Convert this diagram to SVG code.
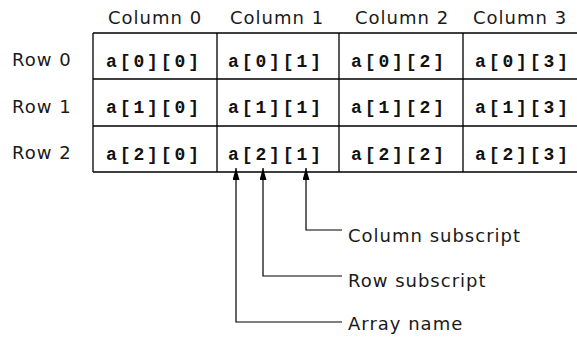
<svg xmlns="http://www.w3.org/2000/svg" width="577" height="343" viewBox="0 0 577 343">
<defs>
<marker id="ah" viewBox="0 0 12 7" refX="12" refY="3.5" markerWidth="12" markerHeight="7" markerUnits="userSpaceOnUse" orient="auto-start-reverse">
<path d="M0 0 L12 3.5 L0 7 Z" fill="#000"/>
</marker>
<style>
.lbl{font-family:"DejaVu Sans",sans-serif;font-size:18px;letter-spacing:1px;fill:#1a1a1a}
.cell{font-family:"Liberation Mono",monospace;font-weight:bold;font-size:18px;letter-spacing:2.9px;fill:#111}
.grid{stroke:#000;stroke-width:1.3;fill:none}
.conn{stroke:#000;stroke-width:1.2;fill:none}
</style>
</defs>
<rect width="577" height="343" fill="#fff"/>
<g id="headers">
<text class="lbl" x="108" y="24">Column 0</text>
<text class="lbl" x="230" y="24">Column 1</text>
<text class="lbl" x="355" y="24">Column 2</text>
<text class="lbl" x="473" y="24">Column 3</text>
<text class="lbl" x="12" y="66">Row 0</text>
<text class="lbl" x="12" y="113">Row 1</text>
<text class="lbl" x="12" y="159">Row 2</text>
</g>
<g id="grid" class="grid">
<path d="M93 33 H577 M93 79 H577 M93 126 H577 M93 172 H577"/>
<path d="M93 33 V172 M217 33 V172 M339 33 V172 M463 33 V172"/>
</g>
<g id="r0c0"><text class="cell" x="106" y="67">a[0][0]</text></g>
<g id="r0c1"><text class="cell" x="228" y="67">a[0][1]</text></g>
<g id="r0c2"><text class="cell" x="351" y="67">a[0][2]</text></g>
<g id="r0c3"><text class="cell" x="475" y="67">a[0][3]</text></g>
<g id="r1c0"><text class="cell" x="106" y="113">a[1][0]</text></g>
<g id="r1c1"><text class="cell" x="228" y="113">a[1][1]</text></g>
<g id="r1c2"><text class="cell" x="351" y="113">a[1][2]</text></g>
<g id="r1c3"><text class="cell" x="475" y="113">a[1][3]</text></g>
<g id="r2c0"><text class="cell" x="106" y="159.5">a[2][0]</text></g>
<g id="r2c1"><text class="cell" x="228" y="159.5">a[2][1]</text></g>
<g id="r2c2"><text class="cell" x="351" y="159.5">a[2][2]</text></g>
<g id="r2c3"><text class="cell" x="475" y="159.5">a[2][3]</text></g>
<g id="connectors" class="conn">
<path d="M306 168 V230 H342" marker-start="url(#ah)"/>
<path d="M263 168 V276 H342" marker-start="url(#ah)"/>
<path d="M236 168 V322 H342" marker-start="url(#ah)"/>
</g>
<g id="column-subscript"><text class="lbl" x="348" y="241.5">Column subscript</text></g>
<g id="row-subscript"><text class="lbl" x="348" y="287">Row subscript</text></g>
<g id="array-name"><text class="lbl" x="348" y="330">Array name</text></g>
</svg>
